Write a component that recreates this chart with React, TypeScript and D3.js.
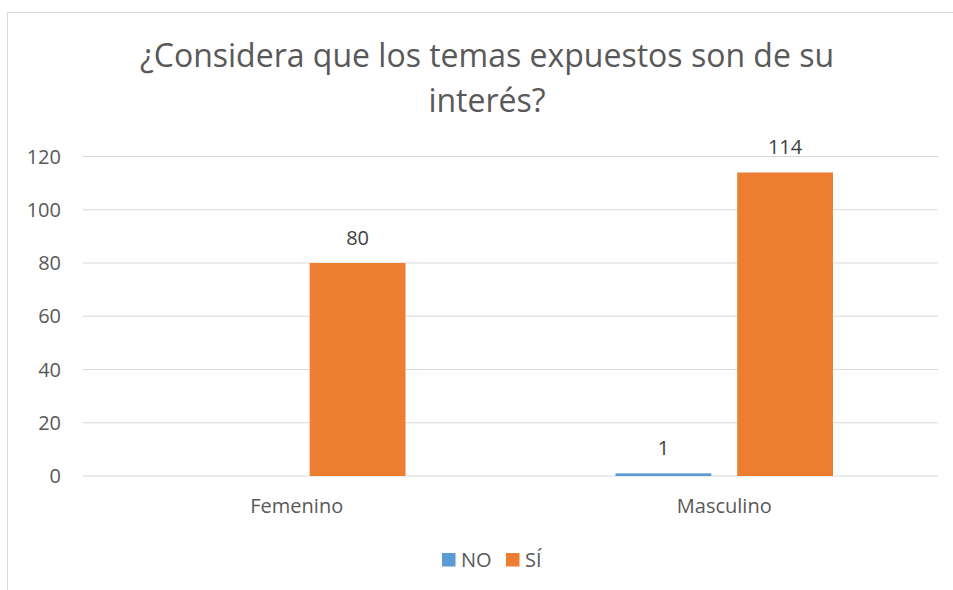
import React from "react";
import * as d3 from "d3";

const categories = ["Femenino", "Masculino"];
const seriesNames = ["NO", "SÍ"];
const noValues = [0, 1];
const siValues = [80, 114];
const yTicks = [0, 20, 40, 60, 80, 100, 120];
const titleLines = ["¿Considera que los temas expuestos son de su", "interés?"];

const W = 953;
const H = 590;
const colors = ["#5B9BD5", "#ED7D31"];
const font = "'Open Sans', 'Liberation Sans', sans-serif";

export default function App() {
  const left = 83, right = 938, top = 156.5, bottom = 476;

  const y = d3.scaleLinear().domain([0, 120]).range([bottom, top]);
  const x0 = d3.scaleBand().domain(categories).range([left, right]).padding(0);
  const bw = x0.bandwidth();
  const x1 = d3.scaleBand().domain(seriesNames).range([105, bw - 105]).paddingInner(0.213).paddingOuter(0);

  const rows = categories.map((c, i) => ({ cat: c, vals: [noValues[i], siValues[i]] }));

  return (
    <svg width={W} height={H} style={{ position: "absolute", left: 0, top: 0, background: "#fff" }}>
      <rect x={7.5} y={12.5} width={W} height={H} fill="#fff" stroke="#D9D9D9" strokeWidth={1} />
      {titleLines.map((t, i) => (
        <text key={i} x={487} y={67 + i * 45} textAnchor="middle" fontFamily={font} fontSize={32} fill="#595959">{t}</text>
      ))}
      {yTicks.map(t => (
        <g key={t}>
          <line x1={left} x2={right} y1={y(t)} y2={y(t)} stroke="#D9D9D9" strokeWidth={1.2} />
          <text x={61} y={y(t)} dy="0.35em" textAnchor="end" fontFamily={font} fontSize={20} fill="#595959">{t}</text>
        </g>
      ))}
      {rows.map(r => (
        <g key={r.cat} transform={`translate(${x0(r.cat)},0)`}>
          {r.vals.map((v, j) => {
            const bx = x1(seriesNames[j])!;
            if (v === 0) return null;
            return (
              <g key={j}>
                <rect x={bx} y={y(v)} width={x1.bandwidth()} height={bottom - y(v)} fill={colors[j]} />
                <text x={bx + x1.bandwidth() / 2} y={y(v) - 18} textAnchor="middle" fontFamily={font} fontSize={20} fill="#404040">{v}</text>
              </g>
            );
          })}
          <text x={bw / 2} y={506} dy="0.35em" textAnchor="middle" fontFamily={font} fontSize={20} fill="#595959">{r.cat}</text>
        </g>
      ))}
      <g>
        <rect x={442} y={553} width={13.5} height={13.5} fill={colors[0]} />
        <text x={461} y={560} dy="0.35em" fontFamily={font} fontSize={20} fill="#595959">{seriesNames[0]}</text>
        <rect x={506} y={553} width={13.5} height={13.5} fill={colors[1]} />
        <text x={525} y={560} dy="0.35em" fontFamily={font} fontSize={20} fill="#595959">{seriesNames[1]}</text>
      </g>
    </svg>
  );
}
